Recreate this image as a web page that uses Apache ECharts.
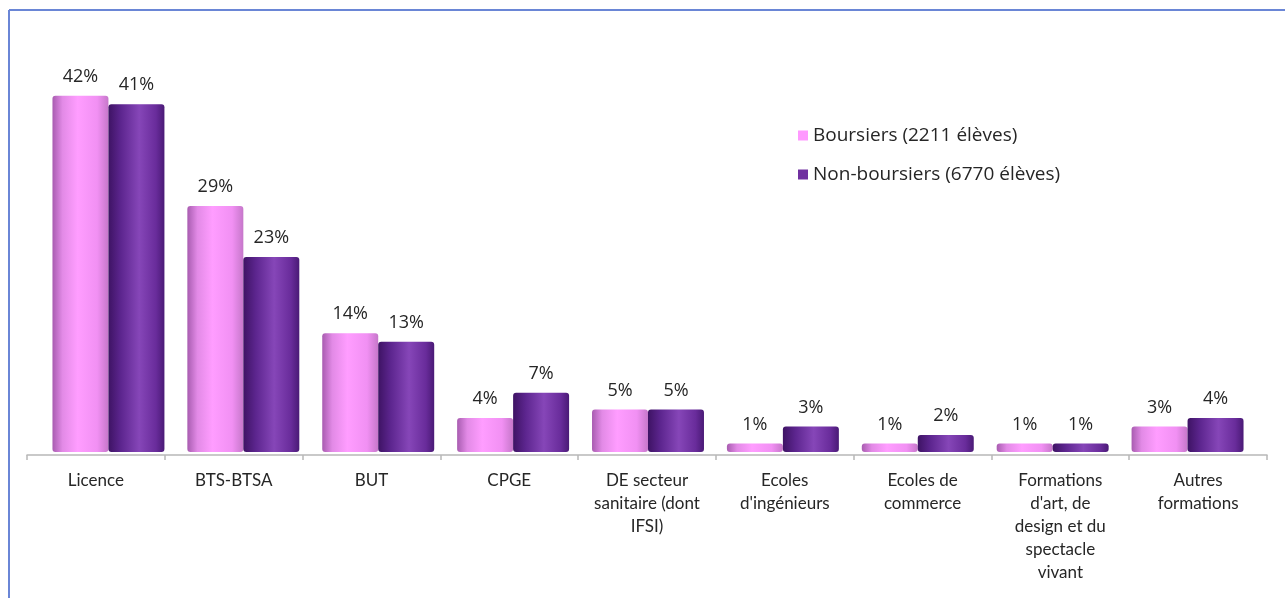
<!DOCTYPE html>
<html>
<head>
<meta charset="utf-8">
<script src="https://cdn.jsdelivr.net/npm/echarts@6/dist/echarts.min.js"></script>
<style>
  html, body { margin: 0; padding: 0; background: #ffffff; }
  #chart { width: 1285px; height: 598px; }
</style>
</head>
<body>
<div id="chart"></div>
<script>
// categories (axis labels, wrapped as in the picture)
var categories = [
  "Licence",
  "BTS-BTSA",
  "BUT",
  "CPGE",
  "DE secteur\nsanitaire (dont\nIFSI)",
  "Ecoles\nd'ingénieurs",
  "Ecoles de\ncommerce",
  "Formations\nd'art, de\ndesign et du\nspectacle\nvivant",
  "Autres\nformations"
];
var seriesNames = ["Boursiers (2211 élèves)", "Non-boursiers (6770 élèves)"];
var boursiers = [42, 29, 14, 4, 5, 1, 1, 1, 3];
var nonBoursiers = [41, 23, 13, 7, 5, 3, 2, 1, 4];

var chart = echarts.init(document.getElementById("chart"));

function grad(stops) {
  return new echarts.graphic.LinearGradient(0, 0, 1, 0, stops);
}
var pinkGrad = grad([
  { offset: 0, color: "#a85cb0" },
  { offset: 0.18, color: "#e28ae6" },
  { offset: 0.45, color: "#ff9dff" },
  { offset: 0.8, color: "#f190f3" },
  { offset: 1, color: "#c677ca" }
]);
var purpleGrad = grad([
  { offset: 0, color: "#3e1364" },
  { offset: 0.22, color: "#5c258e" },
  { offset: 0.55, color: "#8646b8" },
  { offset: 0.85, color: "#692c9b" },
  { offset: 1, color: "#4a1a76" }
]);

var labelStyle = {
  show: true,
  position: "top",
  distance: 10,
  formatter: "{c}%",
  fontFamily: "Open Sans",
  fontSize: 18,
  color: "#262626"
};

var option = {
  animation: false,
  backgroundColor: "#ffffff",
  graphic: [
    { type: "line", shape: { x1: 9, y1: 10, x2: 1285, y2: 10 }, style: { stroke: "#6a86d6", lineWidth: 2 } },
    { type: "line", shape: { x1: 9, y1: 10, x2: 9, y2: 598 }, style: { stroke: "#6a86d6", lineWidth: 2 } }
  ],
  legend: {
    orient: "vertical",
    left: 793,
    top: 121,
    itemWidth: 10,
    itemHeight: 10,
    itemGap: 20,
    icon: "rect",
    data: [
      { name: seriesNames[0], itemStyle: { color: "#ff99ff" } },
      { name: seriesNames[1], itemStyle: { color: "#7030a0" } }
    ],
    textStyle: { fontFamily: "Open Sans", fontSize: 19, color: "#262626" }
  },
  grid: [
    { left: 27, right: 18, top: 28, bottom: 143 },
    { left: 41, width: 1214, top: 28, bottom: 146 }
  ],
  xAxis: [
    {
      type: "category",
      gridIndex: 0,
      data: categories,
      axisLine: { lineStyle: { color: "#b8b8b8", width: 1.5 } },
      axisTick: { show: true, length: 5, lineStyle: { color: "#b8b8b8", width: 1.5 } },
      axisLabel: {
        interval: 0,
        margin: 14,
        fontFamily: "Lato",
        fontSize: 17,
        lineHeight: 23,
        color: "#262626"
      }
    },
    {
      type: "category",
      gridIndex: 1,
      data: categories,
      show: false
    }
  ],
  yAxis: [
    { type: "value", gridIndex: 0, min: 0, max: 50, show: false },
    { type: "value", gridIndex: 1, min: 0, max: 50, show: false }
  ],
  series: [
    {
      name: seriesNames[0],
      type: "bar",
      xAxisIndex: 1,
      yAxisIndex: 1,
      data: boursiers,
      barGap: 0,
      barCategoryGap: "17%",
      itemStyle: { color: pinkGrad, borderRadius: [3, 3, 3, 3] },
      label: labelStyle
    },
    {
      name: seriesNames[1],
      type: "bar",
      xAxisIndex: 1,
      yAxisIndex: 1,
      data: nonBoursiers,
      barGap: 0,
      barCategoryGap: "17%",
      itemStyle: { color: purpleGrad, borderRadius: [3, 3, 3, 3] },
      label: labelStyle
    }
  ]
};
chart.setOption(option);
</script>
</body>
</html>
